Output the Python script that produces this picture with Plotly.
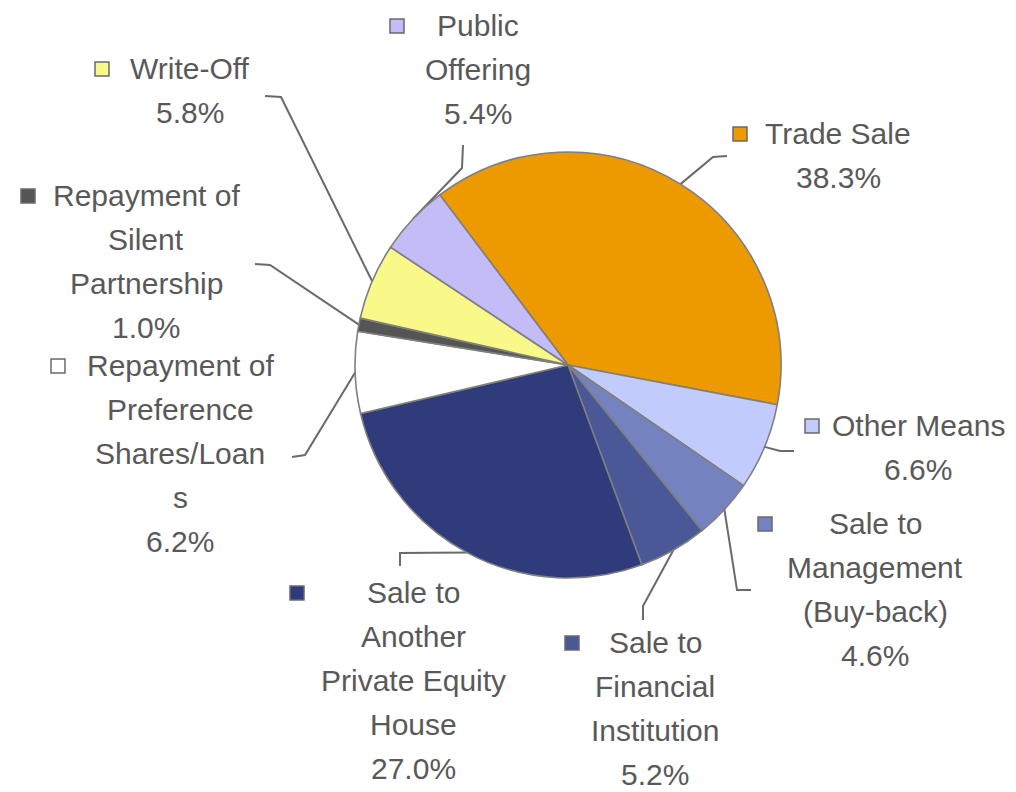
import math
import plotly.graph_objects as go

# ---- data ----
categories = ["Trade Sale", "Other Means", "Sale to Management (Buy-back)",
              "Sale to Financial Institution", "Sale to Another Private Equity House",
              "Repayment of Preference Shares/Loans", "Repayment of Silent Partnership",
              "Write-Off", "Public Offering"]
values = [38.3, 6.6, 4.6, 5.2, 27.0, 6.2, 1.0, 5.8, 5.4]
label_lines = [
    ["Trade Sale"],
    ["Other Means"],
    ["Sale to", "Management", "(Buy-back)"],
    ["Sale to", "Financial", "Institution"],
    ["Sale to", "Another", "Private Equity", "House"],
    ["Repayment of", "Preference", "Shares/Loan", "s"],
    ["Repayment of", "Silent", "Partnership"],
    ["Write-Off"],
    ["Public", "Offering"],
]

# ---- styles / layout ----
colors = ["#EC9A00", "#C2CCFC", "#7483BF", "#4A5898", "#2F3B7B",
          "#FFFFFF", "#555555", "#F9F98A", "#C4BCF6"]
W, H = 1016, 792
OFF = 8  # page body margin
CX, CY, R = 568, 365, 213
ROTATION = -37
TEXT_COLOR = "#595959"
FONT = "Liberation Sans, Arial, sans-serif"
FS = 30
LINE_H = 44
# label block: (center x, first line y, marker x)
label_pos = [
    (838, 133, 740),
    (918, 425, 812),
    (875, 523, 765),
    (655, 642, 572),
    (413, 592, 297),
    (180, 365, 58),
    (146, 195, 28),
    (190, 68, 102),
    (478, 25, 397),
]
# leader elbow and end points
leader_pts = [
    [(713, 157), (727, 156)],
    [(780, 451), (794, 451)],
    [(737, 590), (751, 590)],
    [(643, 606), (643, 620)],
    [(400, 553), (400, 566)],
    [(305, 455), (292, 457)],
    [(270, 265), (255, 264)],
    [(281, 97), (265, 96)],
    [(462, 168), (463, 145)],
]

fig = go.Figure()
fig.add_trace(go.Pie(
    labels=categories, values=values, sort=False, direction="clockwise",
    rotation=ROTATION, textinfo="none", hoverinfo="label+percent",
    marker=dict(colors=colors, line=dict(color="#7F7F7F", width=1.6)),
    domain=dict(x=[(CX - OFF - R) / W, (CX - OFF + R) / W],
                y=[(H - (CY - OFF) - R) / H, (H - (CY - OFF) + R) / H]),
    showlegend=False,
))

total = sum(values)
cum = 0.0
for i, v in enumerate(values):
    mid = ROTATION + (cum + v / 2) / total * 360
    cum += v
    a = math.radians(mid)
    sx, sy = CX + R * math.sin(a), CY - R * math.cos(a)
    pts = [(sx, sy)] + leader_pts[i]
    fig.add_trace(go.Scatter(x=[p[0] for p in pts], y=[p[1] for p in pts], mode="lines",
                             line=dict(color="#6A6A6A", width=2), hoverinfo="skip",
                             showlegend=False))
    lx, ly, mx = label_pos[i]
    pct = f"{v / total * 100:.1f}%"
    lines = label_lines[i] + [pct]
    for j, t in enumerate(lines):
        fig.add_annotation(x=lx, y=ly + j * LINE_H, text=t, showarrow=False,
                           xanchor="center", yanchor="middle",
                           font=dict(family=FONT, size=FS, color=TEXT_COLOR))
    fig.add_trace(go.Scatter(x=[mx], y=[ly + 1], mode="markers",
                             marker=dict(symbol="square", size=14, color=colors[i],
                                         line=dict(color="#6A6A6A", width=1.5)),
                             hoverinfo="skip", showlegend=False))

fig.update_layout(
    width=W, height=H, margin=dict(l=0, r=0, t=0, b=0),
    paper_bgcolor="white", plot_bgcolor="rgba(0,0,0,0)",
    xaxis=dict(range=[OFF, W + OFF], visible=False, fixedrange=True),
    yaxis=dict(range=[H + OFF, OFF], visible=False, fixedrange=True),
)
fig.write_html("out.html")
